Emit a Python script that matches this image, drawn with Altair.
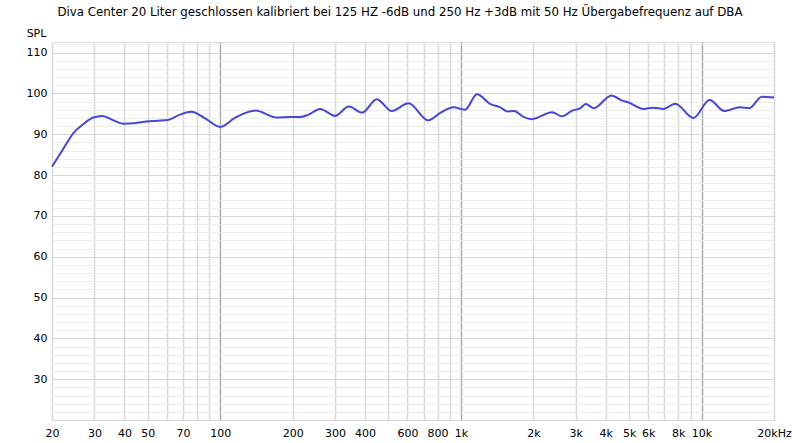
import altair as alt
import pandas as pd

title_text = "Diva Center 20 Liter geschlossen kalibriert bei 125 HZ -6dB und 250 Hz +3dB mit 50 Hz Übergabefrequenz auf DBA"

freq_hz = [20, 22, 24.5, 27, 29.7, 32.3, 36, 39.5, 44, 49.4, 55, 60.5, 68, 76, 86,
           100, 115, 140, 172, 195, 215, 233, 260, 300, 342, 389, 447, 516, 606,
           732, 824, 932, 1040, 1166, 1326, 1458, 1556, 1660, 1828, 1970, 2392,
           2632, 2900, 3140, 3300, 3570, 4220, 4650, 4960, 5740, 6310, 6950, 7780,
           9250, 10800, 12440, 14400, 15800, 17800, 20000]
spl_db = [82.1, 85.9, 90.2, 92.5, 94.1, 94.5, 93.4, 92.6, 92.7, 93.1, 93.3, 93.5, 94.8, 95.5, 94.0,
          91.8, 94.0, 95.8, 94.1, 94.2, 94.2, 94.8, 96.2, 94.5, 96.8, 95.3, 98.6, 95.7, 97.6,
          93.4, 95.3, 96.6, 96.0, 99.8, 97.4, 96.6, 95.6, 95.7, 94.2, 93.7, 95.4,
          94.4, 95.8, 96.4, 97.4, 96.4, 99.5, 98.3, 97.8, 96.2, 96.5, 96.2, 97.5,
          94.0, 98.4, 95.7, 96.6, 96.4, 99.2, 99.0]

x_grid_values = [20, 30, 40, 50, 60, 70, 80, 90,
                 100, 200, 300, 400, 500, 600, 700, 800, 900,
                 1000, 2000, 3000, 4000, 5000, 6000, 7000, 8000, 9000,
                 10000, 20000]
x_tick_values = [20, 30, 40, 50, 70, 100, 200, 300, 400, 600, 800,
                 1000, 2000, 3000, 4000, 5000, 6000, 8000, 10000, 20000]
x_tick_labels = ["20", "30", "40", "50", "70", "100", "200", "300", "400", "600", "800",
                 "1k", "2k", "3k", "4k", "5k", "6k", "8k", "10k", "20kHz"]
x_major = [100, 1000, 10000]

y_grid_values = list(range(20, 113, 2))
y_tick_values = [30, 40, 50, 60, 70, 80, 90, 100, 110]

df = pd.DataFrame({"freq": freq_hz, "spl": spl_db})

label_expr = " : ".join(f"datum.value == {v} ? '{l}'" for v, l in zip(x_tick_values, x_tick_labels)) + " : ''"
major_test = " || ".join(f"datum.value == {v}" for v in x_major)
y_label_test = " || ".join(f"datum.value == {v}" for v in y_tick_values)

FONT = "DejaVu Sans"

chart = alt.Chart(df).mark_line(
    color="#4646dc", strokeWidth=2, interpolate="monotone"
).encode(
    x=alt.X("freq:Q",
            scale=alt.Scale(type="log", domain=[20, 20000], nice=False),
            axis=alt.Axis(values=x_grid_values, labelExpr=label_expr, title=None,
                          ticks=False, domain=False, labelOverlap=False, labelFlush=False,
                          labelPadding=7, labelFontSize=11, labelColor="#000000", labelFont=FONT,
                          gridWidth=1.5,
                          gridColor={"condition": {"test": major_test, "value": "#ababab"},
                                     "value": "#d8d8d8"})),
    y=alt.Y("spl:Q",
            scale=alt.Scale(domain=[20, 112.6], nice=False, zero=False),
            axis=alt.Axis(values=y_grid_values,
                          labelExpr=f"({y_label_test}) ? datum.label : ''",
                          title="SPL", titleAngle=0, titleX=-16, titleY=-9,
                          titleAlign="center", titleBaseline="middle",
                          titleFontWeight="normal", titleFontSize=11, titleFont=FONT,
                          titleColor="#000000",
                          ticks=False, domain=False, labelOverlap=False, labelFlush=False,
                          labelPadding=5, labelFontSize=11, labelColor="#000000", labelFont=FONT,
                          gridWidth=1,
                          gridColor={"condition": {"test": "datum.value % 10 == 0", "value": "#d6d6d6"},
                                     "value": "#ebebeb"})),
).properties(
    width=722,
    height=378,
    title=alt.TitleParams(text=title_text, fontSize=11.8, font=FONT, fontWeight="normal",
                          color="#000000", anchor="middle", dx=-13, dy=12, offset=20),
    autosize=alt.AutoSizeParams(type="none"),
    padding={"left": 52, "top": 42, "right": 26, "bottom": 23},
).configure_view(
    stroke="#b0b0b0", strokeWidth=2.5
).configure(background="#ffffff")

chart.save("out.html", embed_options={"renderer": "svg", "actions": False})
